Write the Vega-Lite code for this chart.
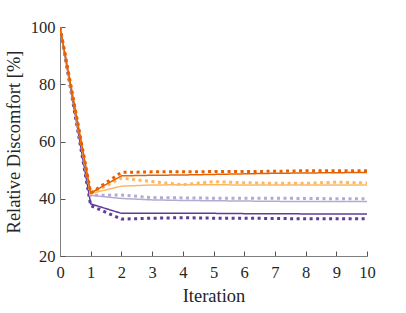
{
  "$schema": "https://vega.github.io/schema/vega-lite/v6.json",
  "autosize": "none",
  "width": 307,
  "height": 229,
  "padding": {"left": 60, "top": 27, "right": 39, "bottom": 57},
  "background": "white",
  "config": {
    "view": {"stroke": null},
    "font": "Liberation Serif",
    "axis": {
      "grid": false,
      "domainColor": "#7f7f7f",
      "tickColor": "#555555",
      "labelColor": "#262626",
      "titleColor": "#262626",
      "labelFont": "Liberation Serif",
      "titleFont": "Liberation Serif",
      "labelFontSize": 16.5,
      "titleFontSize": 18.5,
      "titleFontWeight": "normal"
    }
  },
  "data": {
    "values": [
      {"s": "DP-solid", "c": "DP", "style": "solid", "iter": 0, "v": 100},
      {"s": "DP-solid", "c": "DP", "style": "solid", "iter": 1, "v": 38.2},
      {"s": "DP-solid", "c": "DP", "style": "solid", "iter": 2, "v": 34.9},
      {"s": "DP-solid", "c": "DP", "style": "solid", "iter": 3, "v": 34.9},
      {"s": "DP-solid", "c": "DP", "style": "solid", "iter": 4, "v": 34.9},
      {"s": "DP-solid", "c": "DP", "style": "solid", "iter": 5, "v": 34.9},
      {"s": "DP-solid", "c": "DP", "style": "solid", "iter": 6, "v": 34.8},
      {"s": "DP-solid", "c": "DP", "style": "solid", "iter": 7, "v": 34.8},
      {"s": "DP-solid", "c": "DP", "style": "solid", "iter": 8, "v": 34.7},
      {"s": "DP-solid", "c": "DP", "style": "solid", "iter": 9, "v": 34.7},
      {"s": "DP-solid", "c": "DP", "style": "solid", "iter": 10, "v": 34.7},
      {"s": "DP-dot", "c": "DP", "style": "dot", "iter": 0, "v": 100},
      {"s": "DP-dot", "c": "DP", "style": "dot", "iter": 1, "v": 37.6},
      {"s": "DP-dot", "c": "DP", "style": "dot", "iter": 2, "v": 32.9},
      {"s": "DP-dot", "c": "DP", "style": "dot", "iter": 3, "v": 33.2},
      {"s": "DP-dot", "c": "DP", "style": "dot", "iter": 4, "v": 33.4},
      {"s": "DP-dot", "c": "DP", "style": "dot", "iter": 5, "v": 33.2},
      {"s": "DP-dot", "c": "DP", "style": "dot", "iter": 6, "v": 33.2},
      {"s": "DP-dot", "c": "DP", "style": "dot", "iter": 7, "v": 33.1},
      {"s": "DP-dot", "c": "DP", "style": "dot", "iter": 8, "v": 33.0},
      {"s": "DP-dot", "c": "DP", "style": "dot", "iter": 9, "v": 33.0},
      {"s": "DP-dot", "c": "DP", "style": "dot", "iter": 10, "v": 33.0},
      {"s": "LP-solid", "c": "LP", "style": "solid", "iter": 0, "v": 100},
      {"s": "LP-solid", "c": "LP", "style": "solid", "iter": 1, "v": 41.2},
      {"s": "LP-solid", "c": "LP", "style": "solid", "iter": 2, "v": 40.1},
      {"s": "LP-solid", "c": "LP", "style": "solid", "iter": 3, "v": 39.6},
      {"s": "LP-solid", "c": "LP", "style": "solid", "iter": 4, "v": 39.4},
      {"s": "LP-solid", "c": "LP", "style": "solid", "iter": 5, "v": 39.3},
      {"s": "LP-solid", "c": "LP", "style": "solid", "iter": 6, "v": 39.2},
      {"s": "LP-solid", "c": "LP", "style": "solid", "iter": 7, "v": 39.1},
      {"s": "LP-solid", "c": "LP", "style": "solid", "iter": 8, "v": 39.0},
      {"s": "LP-solid", "c": "LP", "style": "solid", "iter": 9, "v": 39.0},
      {"s": "LP-solid", "c": "LP", "style": "solid", "iter": 10, "v": 39.0},
      {"s": "LP-dot", "c": "LP", "style": "dot", "iter": 0, "v": 100},
      {"s": "LP-dot", "c": "LP", "style": "dot", "iter": 1, "v": 41.2},
      {"s": "LP-dot", "c": "LP", "style": "dot", "iter": 2, "v": 41.3},
      {"s": "LP-dot", "c": "LP", "style": "dot", "iter": 3, "v": 40.4},
      {"s": "LP-dot", "c": "LP", "style": "dot", "iter": 4, "v": 40.3},
      {"s": "LP-dot", "c": "LP", "style": "dot", "iter": 5, "v": 40.2},
      {"s": "LP-dot", "c": "LP", "style": "dot", "iter": 6, "v": 40.2},
      {"s": "LP-dot", "c": "LP", "style": "dot", "iter": 7, "v": 40.2},
      {"s": "LP-dot", "c": "LP", "style": "dot", "iter": 8, "v": 40.1},
      {"s": "LP-dot", "c": "LP", "style": "dot", "iter": 9, "v": 40.0},
      {"s": "LP-dot", "c": "LP", "style": "dot", "iter": 10, "v": 40.0},
      {"s": "LO-solid", "c": "LO", "style": "solid", "iter": 0, "v": 100},
      {"s": "LO-solid", "c": "LO", "style": "solid", "iter": 1, "v": 41.8},
      {"s": "LO-solid", "c": "LO", "style": "solid", "iter": 2, "v": 44.4},
      {"s": "LO-solid", "c": "LO", "style": "solid", "iter": 3, "v": 44.8},
      {"s": "LO-solid", "c": "LO", "style": "solid", "iter": 4, "v": 44.9},
      {"s": "LO-solid", "c": "LO", "style": "solid", "iter": 5, "v": 44.9},
      {"s": "LO-solid", "c": "LO", "style": "solid", "iter": 6, "v": 44.8},
      {"s": "LO-solid", "c": "LO", "style": "solid", "iter": 7, "v": 44.8},
      {"s": "LO-solid", "c": "LO", "style": "solid", "iter": 8, "v": 44.8},
      {"s": "LO-solid", "c": "LO", "style": "solid", "iter": 9, "v": 44.8},
      {"s": "LO-solid", "c": "LO", "style": "solid", "iter": 10, "v": 44.8},
      {"s": "LO-dot", "c": "LO", "style": "dot", "iter": 0, "v": 100},
      {"s": "LO-dot", "c": "LO", "style": "dot", "iter": 1, "v": 41.8},
      {"s": "LO-dot", "c": "LO", "style": "dot", "iter": 2, "v": 47.2},
      {"s": "LO-dot", "c": "LO", "style": "dot", "iter": 3, "v": 46.0},
      {"s": "LO-dot", "c": "LO", "style": "dot", "iter": 4, "v": 44.9},
      {"s": "LO-dot", "c": "LO", "style": "dot", "iter": 5, "v": 46.0},
      {"s": "LO-dot", "c": "LO", "style": "dot", "iter": 6, "v": 45.6},
      {"s": "LO-dot", "c": "LO", "style": "dot", "iter": 7, "v": 45.4},
      {"s": "LO-dot", "c": "LO", "style": "dot", "iter": 8, "v": 45.4},
      {"s": "LO-dot", "c": "LO", "style": "dot", "iter": 9, "v": 45.8},
      {"s": "LO-dot", "c": "LO", "style": "dot", "iter": 10, "v": 45.5},
      {"s": "DO-solid", "c": "DO", "style": "solid", "iter": 0, "v": 100},
      {"s": "DO-solid", "c": "DO", "style": "solid", "iter": 1, "v": 42.0},
      {"s": "DO-solid", "c": "DO", "style": "solid", "iter": 2, "v": 48.0},
      {"s": "DO-solid", "c": "DO", "style": "solid", "iter": 3, "v": 48.2},
      {"s": "DO-solid", "c": "DO", "style": "solid", "iter": 4, "v": 48.3},
      {"s": "DO-solid", "c": "DO", "style": "solid", "iter": 5, "v": 48.5},
      {"s": "DO-solid", "c": "DO", "style": "solid", "iter": 6, "v": 48.7},
      {"s": "DO-solid", "c": "DO", "style": "solid", "iter": 7, "v": 48.9},
      {"s": "DO-solid", "c": "DO", "style": "solid", "iter": 8, "v": 49.0},
      {"s": "DO-solid", "c": "DO", "style": "solid", "iter": 9, "v": 49.1},
      {"s": "DO-solid", "c": "DO", "style": "solid", "iter": 10, "v": 49.2},
      {"s": "DO-dot", "c": "DO", "style": "dot", "iter": 0, "v": 100},
      {"s": "DO-dot", "c": "DO", "style": "dot", "iter": 1, "v": 42.0},
      {"s": "DO-dot", "c": "DO", "style": "dot", "iter": 2, "v": 49.2},
      {"s": "DO-dot", "c": "DO", "style": "dot", "iter": 3, "v": 49.4},
      {"s": "DO-dot", "c": "DO", "style": "dot", "iter": 4, "v": 49.4},
      {"s": "DO-dot", "c": "DO", "style": "dot", "iter": 5, "v": 49.5},
      {"s": "DO-dot", "c": "DO", "style": "dot", "iter": 6, "v": 49.5},
      {"s": "DO-dot", "c": "DO", "style": "dot", "iter": 7, "v": 49.6},
      {"s": "DO-dot", "c": "DO", "style": "dot", "iter": 8, "v": 49.8},
      {"s": "DO-dot", "c": "DO", "style": "dot", "iter": 9, "v": 49.8},
      {"s": "DO-dot", "c": "DO", "style": "dot", "iter": 10, "v": 49.8}
    ]
  },
  "mark": {"type": "line", "clip": true},
  "encoding": {
    "x": {
      "field": "iter", "type": "quantitative",
      "scale": {"domain": [0, 10], "nice": false, "zero": false},
      "axis": {"title": "Iteration", "titleFont": "Liberation Serif", "labelFont": "Liberation Serif", "values": [0,1,2,3,4,5,6,7,8,9,10], "tickSize": -5, "labelPadding": 13, "titlePadding": 6, "labelFlush": false}
    },
    "y": {
      "field": "v", "type": "quantitative",
      "scale": {"domain": [20, 100], "nice": false, "zero": false},
      "axis": {"title": "Relative Discomfort [%]", "titleFont": "Liberation Serif", "labelFont": "Liberation Serif", "values": [20,40,60,80,100], "tickSize": -5, "labelPadding": 10, "titlePadding": 7}
    },
    "detail": {"field": "s"},
    "order": {"field": "iter"},
    "color": {
      "field": "c", "type": "nominal", "legend": null,
      "scale": {"domain": ["DP", "LP", "LO", "DO"], "range": ["#5e3c99", "#b2abd2", "#fdb863", "#e66101"]}
    },
    "strokeDash": {
      "field": "style", "type": "nominal", "legend": null,
      "scale": {"domain": ["solid", "dot"], "range": [[1, 0], [3, 3.5]]}
    },
    "strokeWidth": {
      "field": "style", "type": "nominal", "legend": null,
      "scale": {"domain": ["solid", "dot"], "range": [1.5, 3]}
    }
  }
}
